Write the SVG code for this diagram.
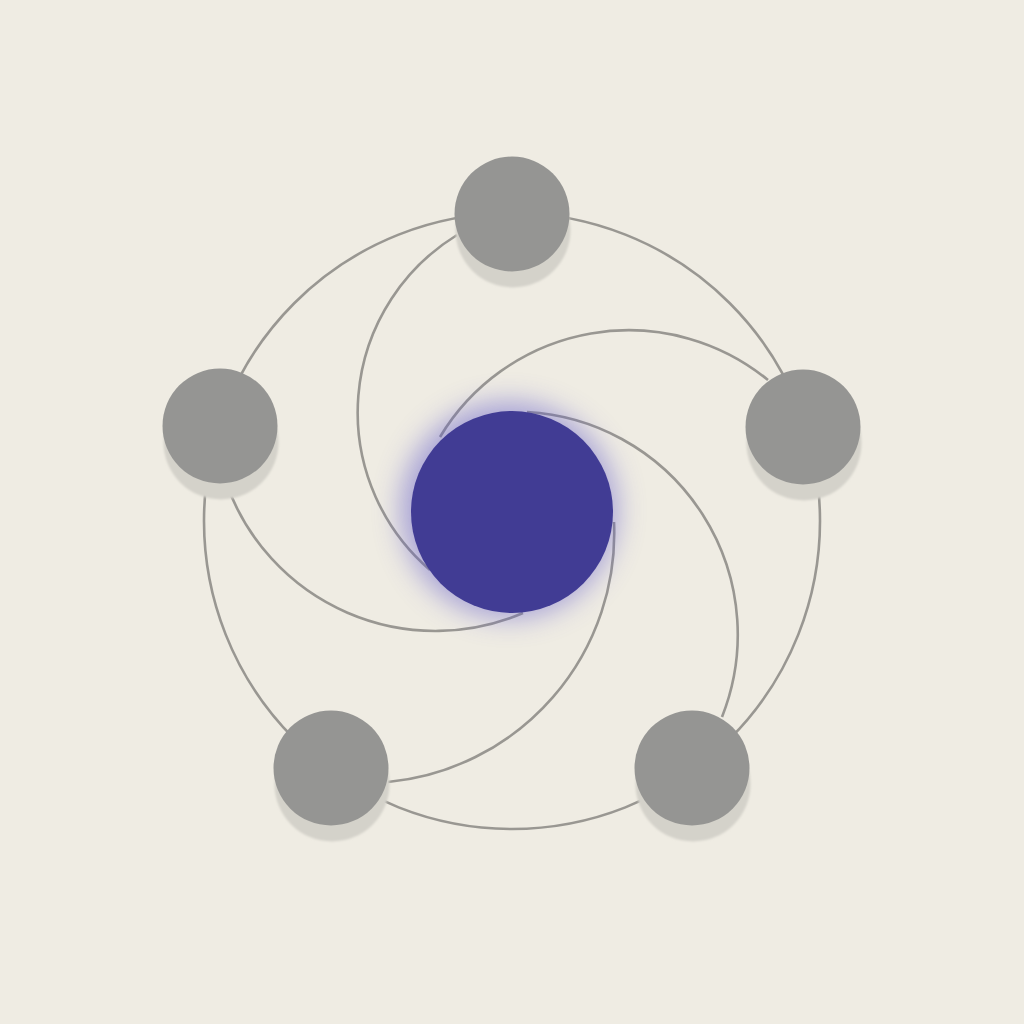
<svg xmlns="http://www.w3.org/2000/svg" width="1024" height="1024" viewBox="0 0 1024 1024">
  <defs>
    <filter id="glow" x="-50%" y="-50%" width="200%" height="200%">
      <feGaussianBlur stdDeviation="14"/>
    </filter>
    <filter id="soft" x="-20%" y="-20%" width="140%" height="140%">
      <feGaussianBlur stdDeviation="1.2"/>
    </filter>
  </defs>
  <style>
    .link { fill: none; stroke: #999792; stroke-width: 2.6; }
    .shadow { fill: #d4d2ca; }
    .node { fill: #959593; }
    .hub { fill: #413c94; }
  </style>
  <rect width="1024" height="1024" fill="#efece3"/>

  <g id="connectors">
    <circle class="link" cx="512" cy="521" r="308"/>
    <path class="link" d="M457,235 A208,208 0 0 0 430,570"/>
    <path class="link" d="M768,380 A220,220 0 0 0 440,437"/>
    <path class="link" d="M722,717 A223,223 0 0 0 527,412"/>
    <path class="link" d="M388,782 A250,250 0 0 0 614,522"/>
    <path class="link" d="M227,485 A222,222 0 0 0 523,613"/>
  </g>

  <g id="hub">
    <circle cx="509" cy="510" r="108" fill="#5b55c9" opacity="0.5" filter="url(#glow)"/>
    <circle class="hub" cx="512" cy="512" r="101"/>
  </g>

  <g id="node-top">
    <circle class="shadow" cx="513" cy="230" r="57.5" filter="url(#soft)"/>
    <circle class="node" cx="512" cy="214" r="57.5"/>
  </g>
  <g id="node-right">
    <circle class="shadow" cx="804" cy="443" r="57.5" filter="url(#soft)"/>
    <circle class="node" cx="803" cy="427" r="57.5"/>
  </g>
  <g id="node-bottom-right">
    <circle class="shadow" cx="693" cy="784" r="57.5" filter="url(#soft)"/>
    <circle class="node" cx="692" cy="768" r="57.5"/>
  </g>
  <g id="node-bottom-left">
    <circle class="shadow" cx="332" cy="784" r="57.5" filter="url(#soft)"/>
    <circle class="node" cx="331" cy="768" r="57.5"/>
  </g>
  <g id="node-left">
    <circle class="shadow" cx="221" cy="442" r="57.5" filter="url(#soft)"/>
    <circle class="node" cx="220" cy="426" r="57.5"/>
  </g>
</svg>
